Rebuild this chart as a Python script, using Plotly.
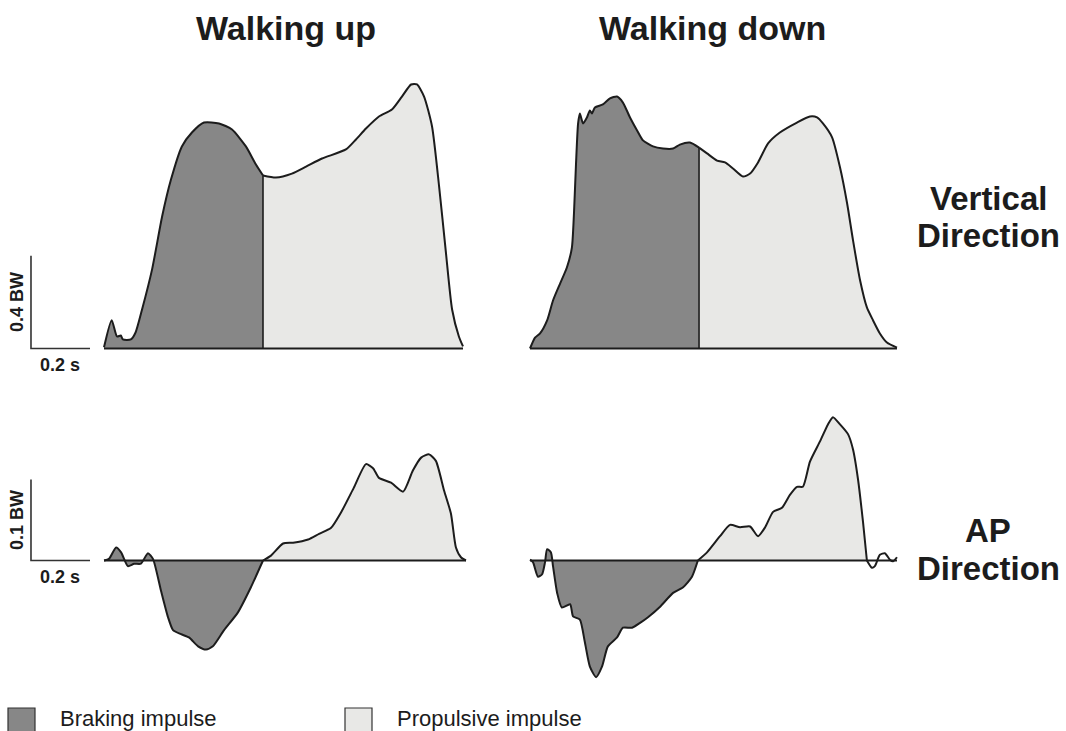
import plotly.graph_objects as go

# ---------------- data (time in s, force in body weight) ----------------
# Vertical GRF, walking up
vu_t = [0.000, 0.026, 0.044, 0.057, 0.064, 0.091, 0.107, 0.129, 0.163, 0.197, 0.227, 0.264, 0.298,
        0.339, 0.390, 0.434, 0.481, 0.515, 0.539, 0.583, 0.637, 0.685, 0.739, 0.820, 0.854, 0.888,
        0.932, 0.976, 1.010, 1.041, 1.061, 1.085, 1.112, 1.136, 1.159, 1.180, 1.203, 1.217]
vu_f = [0.005, 0.122, 0.052, 0.056, 0.039, 0.039, 0.069, 0.168, 0.341, 0.569, 0.728, 0.871, 0.931,
        0.974, 0.970, 0.944, 0.871, 0.793, 0.746, 0.737, 0.754, 0.784, 0.819, 0.858, 0.901, 0.948,
        1.000, 1.030, 1.086, 1.138, 1.138, 1.086, 0.957, 0.698, 0.414, 0.168, 0.052, 0.009]
vu_split = 0.539

# Vertical GRF, walking down
vd_t = [0.000, 0.017, 0.034, 0.058, 0.078, 0.102, 0.125, 0.142, 0.149, 0.156, 0.163, 0.169, 0.180,
        0.193, 0.203, 0.210, 0.220, 0.247, 0.271, 0.295, 0.315, 0.339, 0.363, 0.383, 0.417, 0.451,
        0.485, 0.508, 0.542, 0.573, 0.600, 0.634, 0.661, 0.688, 0.722, 0.746, 0.773, 0.807, 0.847,
        0.905, 0.949, 0.973, 0.993, 1.024, 1.051, 1.075, 1.095, 1.119, 1.142, 1.163, 1.186, 1.210, 1.244]
vd_f = [0.000, 0.047, 0.065, 0.121, 0.207, 0.280, 0.349, 0.435, 0.582, 0.797, 0.970, 1.013, 0.970,
        0.996, 1.026, 1.013, 1.039, 1.052, 1.078, 1.086, 1.060, 0.996, 0.940, 0.897, 0.871, 0.862,
        0.862, 0.879, 0.888, 0.866, 0.841, 0.810, 0.802, 0.776, 0.741, 0.754, 0.802, 0.884, 0.931,
        0.974, 1.000, 0.996, 0.970, 0.910, 0.780, 0.625, 0.466, 0.293, 0.177, 0.121, 0.065, 0.026, 0.004]
vd_split = 0.573

# Anterior-posterior GRF, walking up
au_t = [0.000, 0.017, 0.041, 0.058, 0.081, 0.102, 0.125, 0.149, 0.166, 0.193, 0.217, 0.234, 0.261,
        0.288, 0.319, 0.346, 0.369, 0.407, 0.454, 0.498, 0.539, 0.566, 0.607, 0.641, 0.692, 0.729,
        0.769, 0.803, 0.847, 0.888, 0.912, 0.932, 0.973, 1.014, 1.047, 1.075, 1.102, 1.125, 1.153,
        1.176, 1.193, 1.210, 1.227]
au_f = [0.000, 0.002, 0.016, 0.010, -0.007, -0.004, -0.004, 0.009, 0.002, -0.037, -0.070, -0.086, -0.091,
        -0.095, -0.106, -0.110, -0.106, -0.086, -0.064, -0.033, 0.000, 0.006, 0.021, 0.022, 0.026, 0.033,
        0.040, 0.059, 0.090, 0.119, 0.114, 0.102, 0.096, 0.085, 0.111, 0.127, 0.131, 0.123, 0.086,
        0.058, 0.016, 0.004, 0.000]
au_split = 0.539
au_end = 1.227

# Anterior-posterior GRF, walking down
ad_t = [0.000, 0.010, 0.027, 0.041, 0.051, 0.058, 0.071, 0.078, 0.092, 0.108, 0.136, 0.146, 0.169,
        0.186, 0.203, 0.224, 0.244, 0.264, 0.295, 0.315, 0.346, 0.373, 0.400, 0.441, 0.485, 0.519,
        0.549, 0.569, 0.600, 0.644, 0.678, 0.712, 0.746, 0.773, 0.797, 0.824, 0.854, 0.881, 0.905,
        0.925, 0.949, 0.983, 1.010, 1.027, 1.051, 1.078, 1.095, 1.112, 1.129, 1.142, 1.159, 1.169,
        1.186, 1.203, 1.220, 1.231, 1.244]
ad_f = [0.001, -0.002, -0.020, -0.017, -0.002, 0.014, 0.010, -0.007, -0.040, -0.058, -0.054, -0.069, -0.073,
        -0.101, -0.131, -0.144, -0.131, -0.106, -0.095, -0.083, -0.083, -0.077, -0.070, -0.057, -0.040, -0.033,
        -0.020, 0.000, 0.010, 0.030, 0.044, 0.041, 0.042, 0.030, 0.041, 0.060, 0.065, 0.081, 0.091,
        0.091, 0.122, 0.147, 0.168, 0.177, 0.168, 0.156, 0.137, 0.100, 0.047, 0.000, -0.009, -0.007,
        0.007, 0.009, 0.001, -0.001, 0.004]
ad_split = 0.569
ad_end = 1.142

col_titles = ["Walking up", "Walking down"]
row_titles = [["Vertical", "Direction"], ["AP", "Direction"]]
legend_labels = ["Braking impulse", "Propulsive impulse"]
scale_time = 0.2
scale_vert = 0.4
scale_ap = 0.1

# ---------------- styles ----------------
DARK = "#878787"
LIGHT = "#e8e8e6"
INK = "#1c1c1c"
FONT = "Liberation Sans, Arial, sans-serif"
W, H = 1066, 731

fig = go.Figure()


def seg(t, f, a, b):
    i, j = t.index(a), t.index(b)
    return t[i:j + 1], f[i:j + 1]


def curve(xs, ys, xa, ya, fillcolor=None):
    fig.add_trace(go.Scatter(
        x=xs, y=ys, xaxis=xa, yaxis=ya, mode="lines",
        line=dict(color=INK, width=2, shape="spline", smoothing=0.6),
        fill="tozeroy" if fillcolor else None, fillcolor=fillcolor,
        hoverinfo="skip", showlegend=False))


def plain(xs, ys, xa, ya, width=2, color=INK):
    fig.add_trace(go.Scatter(x=xs, y=ys, xaxis=xa, yaxis=ya, mode="lines",
                             line=dict(color=color, width=width),
                             hoverinfo="skip", showlegend=False))


def vertical_panel(t, f, split, xa, ya):
    ti, fi = seg(t, f, t[0], split)
    curve(ti, fi, xa, ya, DARK)
    ti, fi = seg(t, f, split, t[-1])
    curve(ti, fi, xa, ya, LIGHT)
    k = t.index(split)
    plain([split, split], [0, f[k]], xa, ya, width=1.6)
    plain([t[0], t[-1]], [0, 0], xa, ya, width=2)


def ap_panel(t, f, split, end, xa, ya):
    ti, fi = seg(t, f, t[0], split)
    curve(ti, fi, xa, ya, DARK)
    ti, fi = seg(t, f, split, end)
    curve(ti, fi, xa, ya, LIGHT)
    if end != t[-1]:
        ti, fi = seg(t, f, end, t[-1])
        curve(ti, fi, xa, ya, None)
    plain([t[0], t[-1]], [0, 0], xa, ya, width=2)


vertical_panel(vu_t, vu_f, vu_split, "x", "y")
vertical_panel(vd_t, vd_f, vd_split, "x2", "y")
ap_panel(au_t, au_f, au_split, au_end, "x", "y2")
ap_panel(ad_t, ad_f, ad_split, ad_end, "x2", "y2")

# scale bars (left of the left column)
bar_x0 = -0.2475
for ya, sv in (("y", scale_vert), ("y2", scale_ap)):
    plain([bar_x0, bar_x0, bar_x0 + scale_time], [sv, 0, 0], "x", ya, width=1.6, color="#333333")

ann = []
for ya, sv in (("y", scale_vert), ("y2", scale_ap)):
    ann.append(dict(x=-0.295, y=sv / 2, xref="x", yref=ya, text="<b>%g BW</b>" % sv,
                    textangle=-90, showarrow=False, font=dict(family=FONT, size=18, color=INK),
                    xanchor="center", yanchor="middle"))
    ann.append(dict(x=bar_x0 + scale_time / 2, y=0, xref="x", yref=ya, text="<b>%g s</b>" % scale_time,
                    showarrow=False, font=dict(family=FONT, size=18, color=INK),
                    xanchor="center", yanchor="middle", yshift=-16))

# column titles
for cx, txt in zip((286, 712), col_titles):
    ann.append(dict(x=cx / W, y=1 - 28 / H, xref="paper", yref="paper", text="<b>%s</b>" % txt,
                    showarrow=False, font=dict(family=FONT, size=34, color=INK),
                    xanchor="center", yanchor="middle"))

# row titles
for (l1, l2), (y1, y2) in zip(row_titles, ((198, 235), (530, 568))):
    for txt, yy in ((l1, y1), (l2, y2)):
        ann.append(dict(x=988 / W, y=1 - yy / H, xref="paper", yref="paper", text="<b>%s</b>" % txt,
                        showarrow=False, font=dict(family=FONT, size=33, color=INK),
                        xanchor="center", yanchor="middle"))

# legend
shapes = []
for (bx, tx), col, lab in zip(((8, 58), (345, 395)), (DARK, LIGHT), legend_labels):
    shapes.append(dict(type="rect", xref="paper", yref="paper",
                       x0=bx / W, x1=(bx + 27) / W, y0=1 - 740 / H, y1=1 - 708 / H,
                       fillcolor=col, line=dict(color="#333333", width=1.2)))
    ann.append(dict(x=tx / W, y=1 - 718 / H, xref="paper", yref="paper", text=lab,
                    showarrow=False, font=dict(family=FONT, size=22, color=INK),
                    xanchor="left", yanchor="middle"))

ax = dict(visible=False, fixedrange=True)
fig.update_layout(
    width=W, height=H, margin=dict(l=0, r=0, t=0, b=0),
    paper_bgcolor="white", plot_bgcolor="rgba(0,0,0,0)",
    xaxis=dict(ax, domain=[0, 490 / W], range=[-104 / 295, (490 - 104) / 295], anchor="y"),
    xaxis2=dict(ax, domain=[500 / W, 920 / W], range=[-30 / 295, 390 / 295], anchor="y"),
    yaxis=dict(ax, domain=[1 - 365 / H, 1 - 50 / H], range=[-16.5 / 232, 298.5 / 232], anchor="x"),
    yaxis2=dict(ax, domain=[1 - 705 / H, 1 - 385 / H], range=[-144.5 / 810, 175.5 / 810], anchor="x"),
    annotations=ann, shapes=shapes, showlegend=False,
)

fig.write_html("out.html", config={"displayModeBar": False, "staticPlot": True},
               post_script="document.body.style.margin='0px';document.body.style.overflow='hidden';")
